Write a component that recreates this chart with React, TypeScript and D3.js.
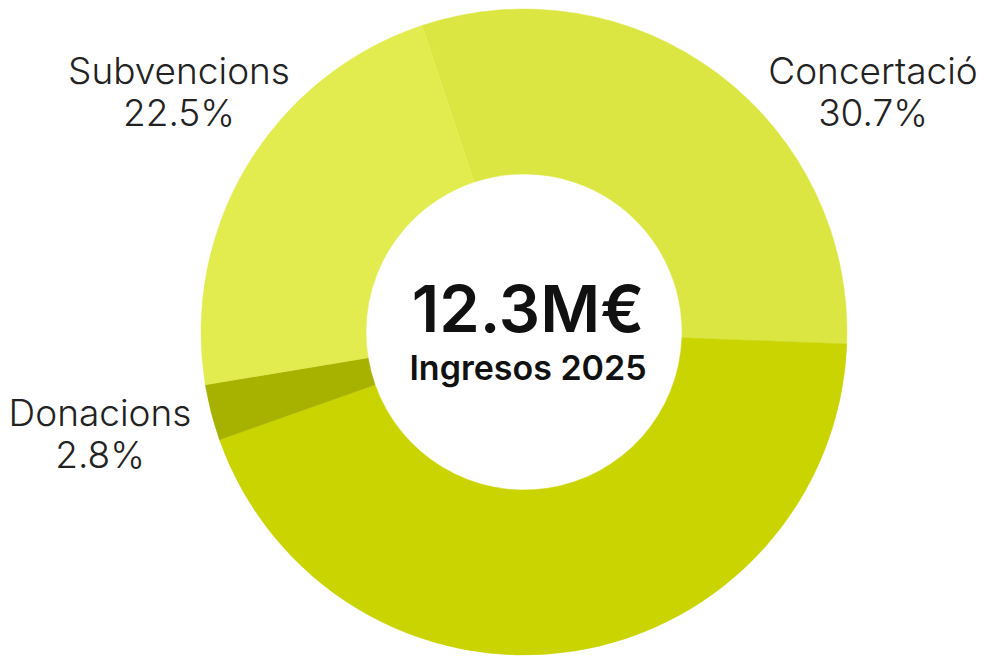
import React from "react";
import * as d3 from "d3";

// dades del gràfic
const categories = ["Concertació", "Altres", "Donacions", "Subvencions"];
const values = [30.7, 44.0, 2.8, 22.5];
const colors = ["#dce642", "#c9d400", "#a6b100", "#e3ec4f"];
const showLabel = [true, false, true, true];
const totalLabel = "12.3M€";
const subtitle = "Ingresos 2025";

const width = 985;
const height = 657;

// posició de les etiquetes (centre del text)
const labelPos: Record<string, [number, number]> = {
  "Concertació": [873, 84],
  "Subvencions": [179, 84],
  "Donacions": [100, 426],
};

const App: React.FC = () => {
  const cx = 524;
  const cy = 332;
  const outer = 323;
  const inner = 158;
  const start = (-18.4 * Math.PI) / 180;

  const pie = d3
    .pie<number>()
    .sort(null)
    .value((d) => d)
    .startAngle(start)
    .endAngle(start + 2 * Math.PI);

  const arc = d3.arc<d3.PieArcDatum<number>>().innerRadius(inner).outerRadius(outer);
  const arcs = pie(values);

  return (
    <div style={{ position: "fixed", left: 0, top: 0, background: "#fff" }}>
      <svg width={width} height={height} viewBox={`0 0 ${width} ${height}`}>
        <rect width={width} height={height} fill="#fff" />
        <g transform={`translate(${cx},${cy})`}>
          {arcs.map((a, i) => (
            <path key={categories[i]} d={arc(a) || ""} fill={colors[i]} stroke={colors[i]} strokeWidth={0.5} />
          ))}
          <text
            x={4}
            y={0}
            textAnchor="middle"
            fontFamily="Inter, 'Noto Sans', sans-serif"
            fontWeight={600}
            fontSize={65}
            fill="#111"
          >
            {totalLabel}
          </text>
          <text
            x={4}
            y={48}
            textAnchor="middle"
            fontFamily="Inter, 'Noto Sans', sans-serif"
            fontWeight={600}
            fontSize={34}
            fill="#111"
          >
            {subtitle}
          </text>
        </g>
        {arcs.map((a, i) => {
          if (!showLabel[i]) return null;
          const p = labelPos[categories[i]];
          return (
            <text
              key={"l" + categories[i]}
              x={p[0]}
              y={p[1]}
              textAnchor="middle"
              fontFamily="Inter, 'Noto Sans', sans-serif"
              fontWeight={300}
              fontSize={37}
              fill="#222"
            >
              <tspan x={p[0]}>{categories[i]}</tspan>
              <tspan x={p[0]} dy={42}>
                {d3.format(".1f")(values[i])}%
              </tspan>
            </text>
          );
        })}
      </svg>
    </div>
  );
};

export default App;
